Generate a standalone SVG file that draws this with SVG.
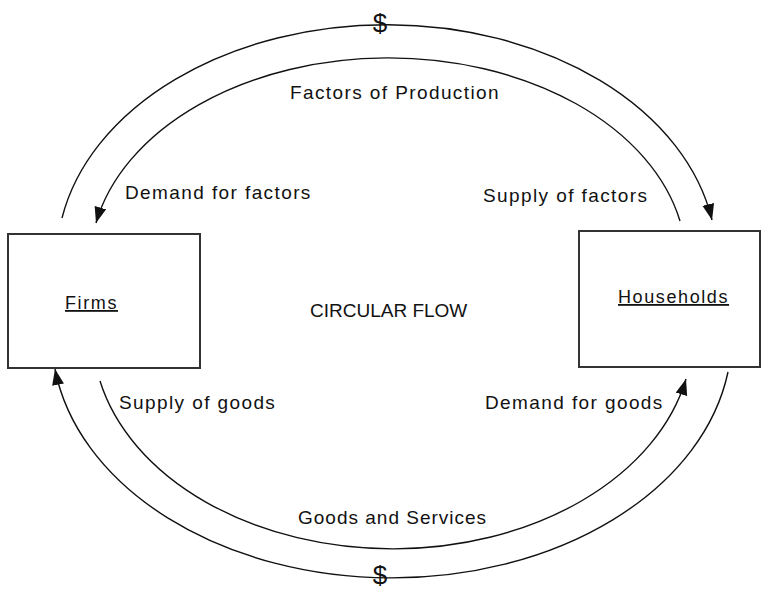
<svg xmlns="http://www.w3.org/2000/svg" width="763" height="589" viewBox="0 0 763 589">
<style>
.box{fill:#fff;stroke:#333;stroke-width:2}
.arc{fill:none;stroke:#111;stroke-width:1.4}
.lbl{font-family:"Liberation Sans",Arial,sans-serif;font-size:19px;letter-spacing:1.4px;fill:#111}
.node{font-family:"Liberation Sans",Arial,sans-serif;font-size:18px;letter-spacing:1.6px;fill:#111;text-decoration:underline}
.title{font-family:"Liberation Sans",Arial,sans-serif;font-size:19px;fill:#111}
.dollar{font-family:"Liberation Sans",Arial,sans-serif;font-size:26px;fill:#111;text-anchor:middle}
</style>
<defs>
<marker id="ah" markerUnits="userSpaceOnUse" markerWidth="17" markerHeight="13" refX="16" refY="6" orient="auto">
<path d="M0,0 L16,6 L0,12 z" fill="#111"/>
</marker>
</defs>
<rect width="763" height="589" fill="#fff"/>
<g id="connectors">
<path class="arc" d="M62,218 A330,235 0 0 1 712,220" marker-end="url(#ah)"/>
<path class="arc" d="M680,221 A298,205 0 0 0 96,223" marker-end="url(#ah)"/>
<path class="arc" d="M728,372 A340,242 0 0 1 55,369" marker-end="url(#ah)"/>
<path class="arc" d="M100,381 A300,215 0 0 0 686,379" marker-end="url(#ah)"/>
<text class="dollar" x="380" y="32">$</text>
<text class="dollar" x="380" y="584">$</text>
<text class="lbl" x="290" y="99">Factors of Production</text>
<text class="lbl" x="125" y="199">Demand for factors</text>
<text class="lbl" x="483" y="202">Supply of factors</text>
<text class="lbl" x="119" y="409">Supply of goods</text>
<text class="lbl" x="485" y="409">Demand for goods</text>
<text class="lbl" x="298" y="524" style="letter-spacing:1px">Goods and Services</text>
</g>
<g id="firms">
<rect class="box" x="8" y="234" width="192" height="134"/>
<text class="node" x="65" y="309">Firms</text>
</g>
<g id="households">
<rect class="box" x="579" y="231" width="181" height="136"/>
<text class="node" x="618" y="303">Households</text>
</g>
<g id="title">
<text class="title" x="310" y="317">CIRCULAR FLOW</text>
</g>
</svg>
